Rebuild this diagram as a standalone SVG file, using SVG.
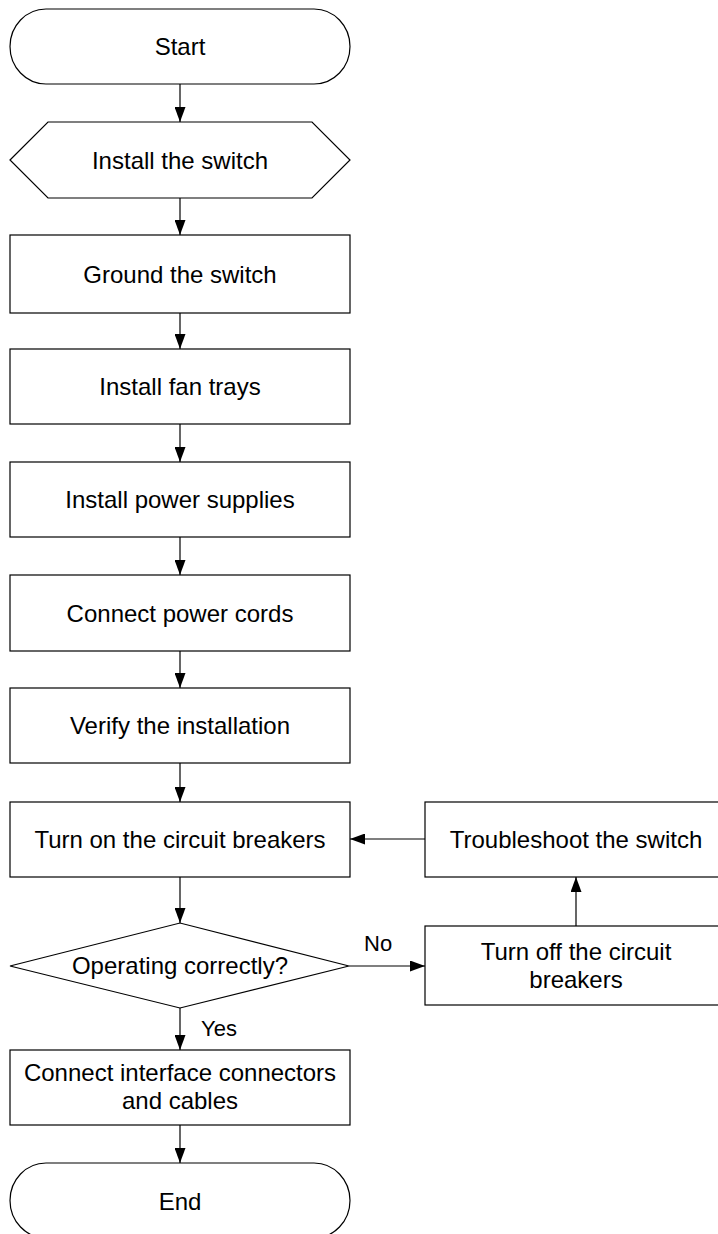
<svg xmlns="http://www.w3.org/2000/svg" width="718" height="1234" viewBox="0 0 718 1234">
<style>
.s{fill:#fff;stroke:#000;stroke-width:1.2}
.t{font-family:"Liberation Sans",Arial,sans-serif;font-size:24px;fill:#000;text-anchor:middle}
.l{font-family:"Liberation Sans",Arial,sans-serif;font-size:22px;fill:#000}
.c{fill:none;stroke:#000;stroke-width:1.2;marker-end:url(#a)}
</style>
<defs>
<marker id="a" markerUnits="userSpaceOnUse" markerWidth="15" markerHeight="11" refX="15" refY="5.5" orient="auto">
<path d="M0,0 L15,5.5 L0,11 z" fill="#000"/>
</marker>
</defs>
<rect width="718" height="1234" fill="#fff"/>
<g id="connectors">
<line class="c" x1="180" y1="84" x2="180" y2="122"/>
<line class="c" x1="180" y1="198" x2="180" y2="235"/>
<line class="c" x1="180" y1="313" x2="180" y2="349"/>
<line class="c" x1="180" y1="424" x2="180" y2="462"/>
<line class="c" x1="180" y1="537" x2="180" y2="575"/>
<line class="c" x1="180" y1="651" x2="180" y2="688"/>
<line class="c" x1="180" y1="763" x2="180" y2="802"/>
<line class="c" x1="180" y1="877" x2="180" y2="923"/>
<line class="c" x1="180" y1="1008" x2="180" y2="1050"/>
<line class="c" x1="180" y1="1125" x2="180" y2="1163"/>
<line class="c" x1="349" y1="966" x2="425" y2="966"/>
<line class="c" x1="576" y1="926" x2="576" y2="877"/>
<line class="c" x1="425" y1="839" x2="350" y2="839"/>
<text class="l" x="364" y="951">No</text>
<text class="l" x="201" y="1036">Yes</text>
</g>
<g id="start">
<rect class="s" x="10" y="9" width="340" height="75" rx="36" ry="37.5"/>
<text class="t" x="180" y="55">Start</text>
</g>
<g id="install">
<polygon class="s" points="10,160 48,122 312,122 350,160 312,198 48,198"/>
<text class="t" x="180" y="168.5">Install the switch</text>
</g>
<g id="ground">
<rect class="s" x="10" y="235" width="340" height="78"/>
<text class="t" x="180" y="282.5">Ground the switch</text>
</g>
<g id="fan">
<rect class="s" x="10" y="349" width="340" height="75"/>
<text class="t" x="180" y="395">Install fan trays</text>
</g>
<g id="power">
<rect class="s" x="10" y="462" width="340" height="75"/>
<text class="t" x="180" y="508">Install power supplies</text>
</g>
<g id="cords">
<rect class="s" x="10" y="575" width="340" height="76"/>
<text class="t" x="180" y="621.5">Connect power cords</text>
</g>
<g id="verify">
<rect class="s" x="10" y="688" width="340" height="75"/>
<text class="t" x="180" y="734">Verify the installation</text>
</g>
<g id="turnon">
<rect class="s" x="10" y="802" width="340" height="75"/>
<text class="t" x="180" y="848">Turn on the circuit breakers</text>
</g>
<g id="troubleshoot">
<rect class="s" x="425" y="802" width="302" height="75"/>
<text class="t" x="576" y="848">Troubleshoot the switch</text>
</g>
<g id="decision">
<polygon class="s" points="10,966 180,923 349,966 180,1008"/>
<text class="t" x="180" y="974">Operating correctly?</text>
</g>
<g id="turnoff">
<rect class="s" x="425" y="926" width="302" height="79"/>
<text class="t" x="576" y="960">Turn off the circuit</text>
<text class="t" x="576" y="988">breakers</text>
</g>
<g id="connect">
<rect class="s" x="10" y="1050" width="340" height="75"/>
<text class="t" x="180" y="1081">Connect interface connectors</text>
<text class="t" x="180" y="1109">and cables</text>
</g>
<g id="end">
<rect class="s" x="10" y="1163" width="340" height="75" rx="36" ry="37.5"/>
<text class="t" x="180" y="1209.5">End</text>
</g>
</svg>
